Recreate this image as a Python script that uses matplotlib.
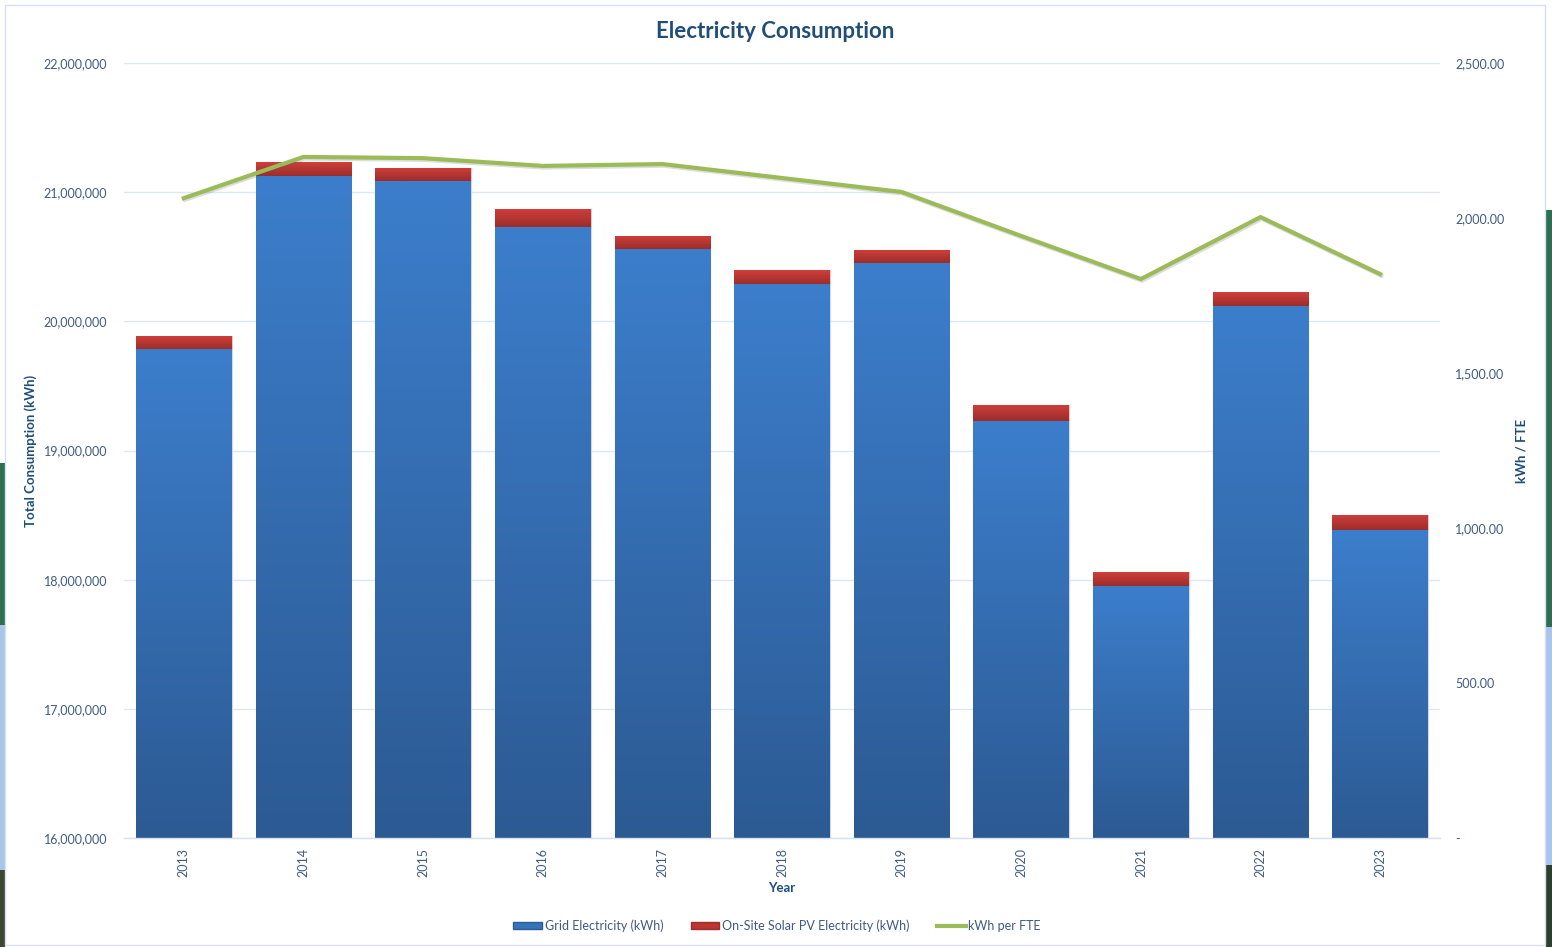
import numpy as np
import matplotlib
matplotlib.use("Agg")
import matplotlib.pyplot as plt
from matplotlib.colors import LinearSegmentedColormap
from matplotlib.patches import Rectangle
from matplotlib.lines import Line2D
import matplotlib.patheffects as pe
from matplotlib.ticker import FuncFormatter, MultipleLocator

years = ["2013", "2014", "2015", "2016", "2017", "2018", "2019", "2020", "2021", "2022", "2023"]
grid_kwh = [19786000, 21125000, 21086000, 20730000, 20560000, 20289000, 20451000, 19228000, 17951000, 20119000, 18384000]
solar_kwh = [100000, 108000, 101000, 140000, 101000, 108000, 101000, 124000, 108000, 108000, 117000]
kwh_per_fte = [2064, 2197, 2193, 2168, 2174, 2129, 2084, 1942, 1803, 2003, 1819]

plt.rcParams['font.family'] = ['Lato', 'DejaVu Sans']

W, H = 1552, 947
fig = plt.figure(figsize=(W / 100, H / 100), dpi=100)
fig.patch.set_facecolor('white')

# background fragments at edges (outside chart frame)
def fig_rect(x0, y0, x1, y1, color, z=0):
    fig.add_artist(Rectangle((x0 / W, 1 - y1 / H), (x1 - x0) / W, (y1 - y0) / H,
                             transform=fig.transFigure, facecolor=color, edgecolor='none', zorder=z))

fig_rect(0, 463, 5, 625, '#2f6e55')
fig_rect(0, 625, 5, 870, '#a9c6ea')
fig_rect(0, 870, 5, 947, '#3b4a2c')
fig_rect(1546, 210, 1552, 627, '#2f6e55')
fig_rect(1546, 627, 1552, 865, '#a9c6ea')
fig_rect(1546, 865, 1552, 947, '#2c4030')
# chart frame
fig.add_artist(Rectangle((5 / W, 1 - 945 / H), 1540 / W, 940 / H, transform=fig.transFigure,
                         facecolor='white', edgecolor='#d6e0ee', linewidth=1.0, zorder=0.5))

ax_l, ax_r, ax_t, ax_b = 124, 1440, 63, 838
ax = fig.add_axes([ax_l / W, 1 - ax_b / H, (ax_r - ax_l) / W, (ax_b - ax_t) / H])
ax.set_facecolor('none')
ax.set_zorder(2)

x = np.arange(len(years))
ymin, ymax = 16000000, 22000000

blue_bars = ax.bar(x, grid_kwh, width=0.8, color='#3673bd', edgecolor='#cfd8e6', linewidth=0.8, zorder=2)
red_bars = ax.bar(x, solar_kwh, bottom=grid_kwh, width=0.8, color='#bb3533', edgecolor='#e8c4c4', linewidth=0.8, zorder=2)

def gradient_fill(bars, top_color, bottom_color):
    cmap = LinearSegmentedColormap.from_list('g', [bottom_color, top_color])
    grad = np.linspace(0, 1, 256).reshape(-1, 1)
    for p in bars:
        x0, y0 = p.get_x(), p.get_y()
        w, h = p.get_width(), p.get_height()
        yb = max(y0, ymin)
        im = ax.imshow(grad, cmap=cmap, extent=[x0, x0 + w, yb, y0 + h], origin='lower',
                       aspect='auto', zorder=2.1, interpolation='bilinear')
        im.set_clip_path(p)

gradient_fill(blue_bars, '#3c7ecc', '#2c5a93')
gradient_fill(red_bars, '#d03f3b', '#9c2d2a')

ax.set_xlim(-0.5, len(years) - 0.5)
ax.set_ylim(ymin, ymax)
ax.yaxis.set_major_locator(MultipleLocator(1000000))
ax.yaxis.set_major_formatter(FuncFormatter(lambda v, p: f"{v:,.0f}"))
ax.grid(axis='y', color='#dde7f4', linewidth=1.0, zorder=0)
ax.set_axisbelow(True)
for s in ['top', 'right', 'left']:
    ax.spines[s].set_visible(False)
ax.spines['bottom'].set_color('#d6e0ee')
ax.spines['bottom'].set_linewidth(1.0)

tick_color = '#3f5b85'
ax.set_xticks(x)
ax.set_xticklabels(years, rotation=90, fontsize=9, color=tick_color)
ax.tick_params(axis='x', length=0, pad=7)
ax.tick_params(axis='y', length=0, pad=12, labelsize=9, labelcolor=tick_color)

label_color = '#1f4e79'
ax.set_xlabel('Year', fontsize=9.5, fontweight='bold', color=label_color, labelpad=4)
ax.set_ylabel('Total Consumption (kWh)', fontsize=9.5, fontweight='bold', color=label_color, labelpad=5)

ax2 = ax.twinx()
line, = ax2.plot(x, kwh_per_fte, color='#9bbb59', linewidth=3.0, solid_joinstyle='miter', zorder=5,
                 path_effects=[pe.SimpleLineShadow(offset=(0.8, -1.2), alpha=0.2, shadow_color='#555555'), pe.Normal()])
ax2.set_ylim(0, 2500)
ax2.yaxis.set_major_locator(MultipleLocator(500))
ax2.yaxis.set_major_formatter(FuncFormatter(lambda v, p: '-' if v == 0 else f"{v:,.2f}"))
ax2.tick_params(axis='y', length=0, pad=11, labelsize=9, labelcolor=tick_color)
for s in ax2.spines.values():
    s.set_visible(False)
ax2.set_ylabel('kWh / FTE', fontsize=9.5, fontweight='bold', color=label_color, labelpad=8)
ax2.set_zorder(3)
ax2.set_facecolor('none')

fig.text(775 / W, 1 - 31 / H, 'Electricity Consumption', ha='center', va='center',
         fontsize=16, fontweight='bold', color=label_color)

handles = [Rectangle((0, 0), 1, 1, facecolor='#3673bd', edgecolor='#2c5a93'),
           Rectangle((0, 0), 1, 1, facecolor='#bb3533', edgecolor='#9c2d2a'),
           Line2D([0], [0], color='#9bbb59', linewidth=3.0)]
leg = fig.legend(handles, ['Grid Electricity (kWh)', 'On-Site Solar PV Electricity (kWh)', 'kWh per FTE'],
                 loc='center', bbox_to_anchor=(777 / W, 1 - 926 / H), ncol=3, frameon=False,
                 fontsize=9, handlelength=2.3, handleheight=0.5, handletextpad=0.2, columnspacing=2.2,
                 labelcolor=tick_color)

fig.savefig('out.png', dpi=100, facecolor=fig.get_facecolor())
